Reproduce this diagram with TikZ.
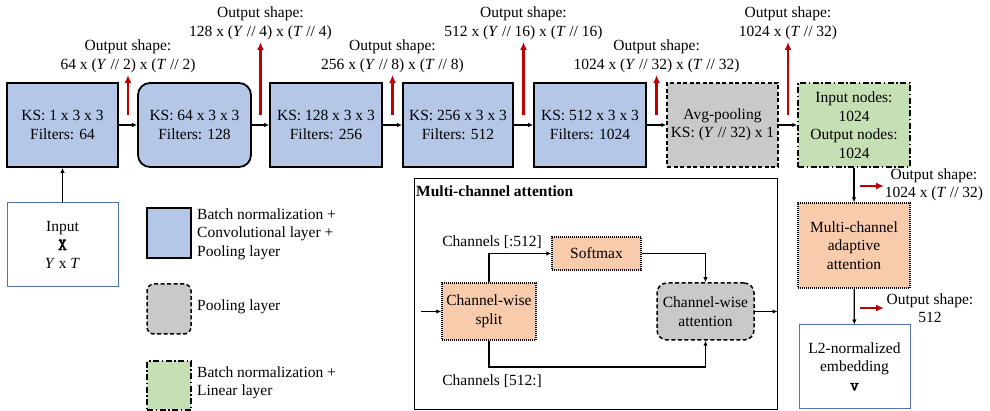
\documentclass[tikz,border=0pt]{standalone}
\usepackage{fontspec}
\setmainfont{Liberation Serif}
\newfontfamily\tensorfont{Latin Modern Mono}[FakeBold=3]
\usetikzlibrary{arrows.meta,calc}

\definecolor{convblue}{HTML}{B4C7E7}
\definecolor{poolgrey}{HTML}{C9C9C9}
\definecolor{lingreen}{HTML}{C5E0B4}
\definecolor{attorange}{HTML}{F8CBAD}
\definecolor{shapered}{HTML}{C00000}
\definecolor{ioborder}{HTML}{5070AE}

\tikzset{
  conv/.style={draw=black, line width=1.8pt, fill=convblue, minimum height=84pt, align=center, inner sep=2pt},
  convround/.style={conv, rounded corners=12pt},
  pool/.style={draw=black, line width=1.5pt, fill=poolgrey, dash pattern=on 4pt off 2.5pt, align=center, inner sep=2pt},
  linear/.style={draw=black, line width=1.5pt, fill=lingreen, dash pattern=on 6pt off 2.5pt on 1.5pt off 2.5pt, align=center, inner sep=2pt},
  attn/.style={draw=black, line width=1.4pt, fill=attorange, dash pattern=on 1pt off 1pt, align=center, inner sep=2pt},
  iobox/.style={draw=ioborder, line width=1pt, fill=white, align=center, inner sep=2pt},
  arr/.style={-{Latex[length=5pt,width=4.5pt]}, line width=1.3pt},
  redarr/.style={-{Latex[length=8pt,width=7pt]}, line width=2.3pt, draw=shapered},
  shapelbl/.style={align=center, inner sep=1.5pt},
  legtext/.style={align=left, anchor=west, inner sep=0pt}
}

\begin{document}
\begin{tikzpicture}[x=1pt, y=-1pt, font=\fontsize{15.5}{18.5}\selectfont]
\useasboundingbox (0,0) rectangle (990,411);

% encoder: convolution blocks, pooling and linear layer
\node[conv, minimum width=111pt] (b1) at (62.5,125) {KS: 1 x 3 x 3\\Filters: 64};
\node[convround, minimum width=113pt] (b2) at (194.5,125) {KS: 64 x 3 x 3\\Filters: 128};
\node[conv, minimum width=112pt] (b3) at (326,125) {KS: 128 x 3 x 3\\Filters: 256};
\node[conv, minimum width=110pt] (b4) at (458,125) {KS: 256 x 3 x 3\\Filters: 512};
\node[conv, minimum width=112pt] (b5) at (590,125) {KS: 512 x 3 x 3\\Filters: 1024};
\node[pool, minimum width=111pt, minimum height=84pt] (b6) at (722.5,125) {Avg-pooling\\KS: (\textit{Y} // 32) x 1};
\node[linear, minimum width=112pt, minimum height=84pt] (b7) at (854,125) {Input nodes:\\1024\\Output nodes:\\1024};

\draw[arr] (b1) -- (b2);
\draw[arr] (b2) -- (b3);
\draw[arr] (b3) -- (b4);
\draw[arr] (b4) -- (b5);
\draw[arr] (b5) -- (b6);
\draw[arr] (b6) -- (b7);

% output shapes after each block
\draw[redarr] ($(b1.east)!.5!(b2.west)$) ++(0,-10) -- ++(0,-40)
  node[shapelbl, above] (s1) {Output shape:\\64 x (\textit{Y} // 2) x (\textit{T} // 2)};
\draw[redarr] ($(b2.east)!.5!(b3.west)$) ++(0,-10) -- ++(0,-73)
  node[shapelbl, above] (s2) {Output shape:\\128 x (\textit{Y} // 4) x (\textit{T} // 4)};
\draw[redarr] ($(b3.east)!.5!(b4.west)$) ++(0,-10) -- ++(0,-40)
  node[shapelbl, above] (s3) {Output shape:\\256 x (\textit{Y} // 8) x (\textit{T} // 8)};
\draw[redarr] ($(b4.east)!.5!(b5.west)$) ++(0,-10) -- ++(0,-73)
  node[shapelbl, above] (s4) {Output shape:\\512 x (\textit{Y} // 16) x (\textit{T} // 16)};
\draw[redarr] ($(b5.east)!.5!(b6.west)$) ++(0,-10) -- ++(0,-40)
  node[shapelbl, above] (s5) {Output shape:\\1024 x (\textit{Y} // 32) x (\textit{T} // 32)};
\draw[redarr] ($(b6.east)!.5!(b7.west)$) ++(0,-10) -- ++(0,-73)
  node[shapelbl, above] (s6) {Output shape:\\1024 x (\textit{T} // 32)};

% input
\node[iobox, minimum width=111pt, minimum height=84pt] (inp) at (62.5,245) {Input\\{\fontsize{17}{18.5}\selectfont\tensorfont X}\\\textit{Y} x \textit{T}};
\draw[arr] (inp) -- (b1);

% legend
\node[conv, minimum width=44pt, minimum height=50pt] (lg1) at (169,233) {};
\node[legtext] (lt1) at (197,234) {Batch normalization +\\Convolutional layer +\\Pooling layer};
\node[pool, rounded corners=7pt, minimum width=44pt, minimum height=50pt] (lg2) at (169,309) {};
\node[legtext] (lt2) at (197,307) {Pooling layer};
\node[linear, minimum width=44pt, minimum height=49pt] (lg3) at (169,385.5) {};
\node[legtext] (lt3) at (197,383) {Batch normalization +\\Linear layer};

% multi-channel attention detail
\node[draw=black, line width=1pt, minimum width=363pt, minimum height=230pt, inner sep=0pt] (mca) at (595.5,294) {};
\node[anchor=north west, inner sep=0pt, font=\fontsize{15.5}{18.5}\selectfont\bfseries] (mcat) at (416,186) {Multi-channel attention};
\node[attn, minimum width=94pt, minimum height=57pt] (split) at (489,311.5) {Channel-wise\\split};
\node[attn, minimum width=89pt, minimum height=33pt] (soft) at (596.5,253.5) {Softmax};
\node[pool, rounded corners=10pt, minimum width=97pt, minimum height=57pt] (cwa) at (705.5,311.5) {Channel-wise\\attention};
\coordinate (attin) at (421,311.5);
\coordinate (lowturn) at (489,367);
\draw[arr] (attin) -- (split);
\draw[arr] (split.north) |- (soft.west);
\draw[arr] (soft.east) -| (cwa.north);
\draw[arr] (split.south) -- (lowturn) -| (cwa.south);
\draw[arr] (cwa.east) -- (cwa.east -| mca.east);
\node[inner sep=0pt] (ch1) at (492,242) {Channels [:512]};
\node[inner sep=0pt] (ch2) at (492,381) {Channels [512:]};

% attention head and embedding
\node[attn, minimum width=112pt, minimum height=85pt] (mcaa) at (854,245.5) {Multi-channel\\adaptive\\attention};
\node[iobox, minimum width=111pt, minimum height=83pt] (emb) at (854.5,366.5) {L2-normalized\\embedding\\{\fontsize{17}{18.5}\selectfont\tensorfont v}};
\draw[arr] (b7) -- (mcaa);
\draw[arr] (mcaa) -- (emb);
\coordinate (o1s) at (860,186);
\coordinate (o2s) at (860,308);
\draw[redarr] (o1s) -- ++(24,0);
\node[shapelbl] (s7) at (934,185) {Output shape:\\1024 x (\textit{T} // 32)};
\draw[redarr] (o2s) -- ++(24,0);
\node[shapelbl] (s8) at (930,308) {Output shape:\\512};
\end{tikzpicture}
\end{document}
